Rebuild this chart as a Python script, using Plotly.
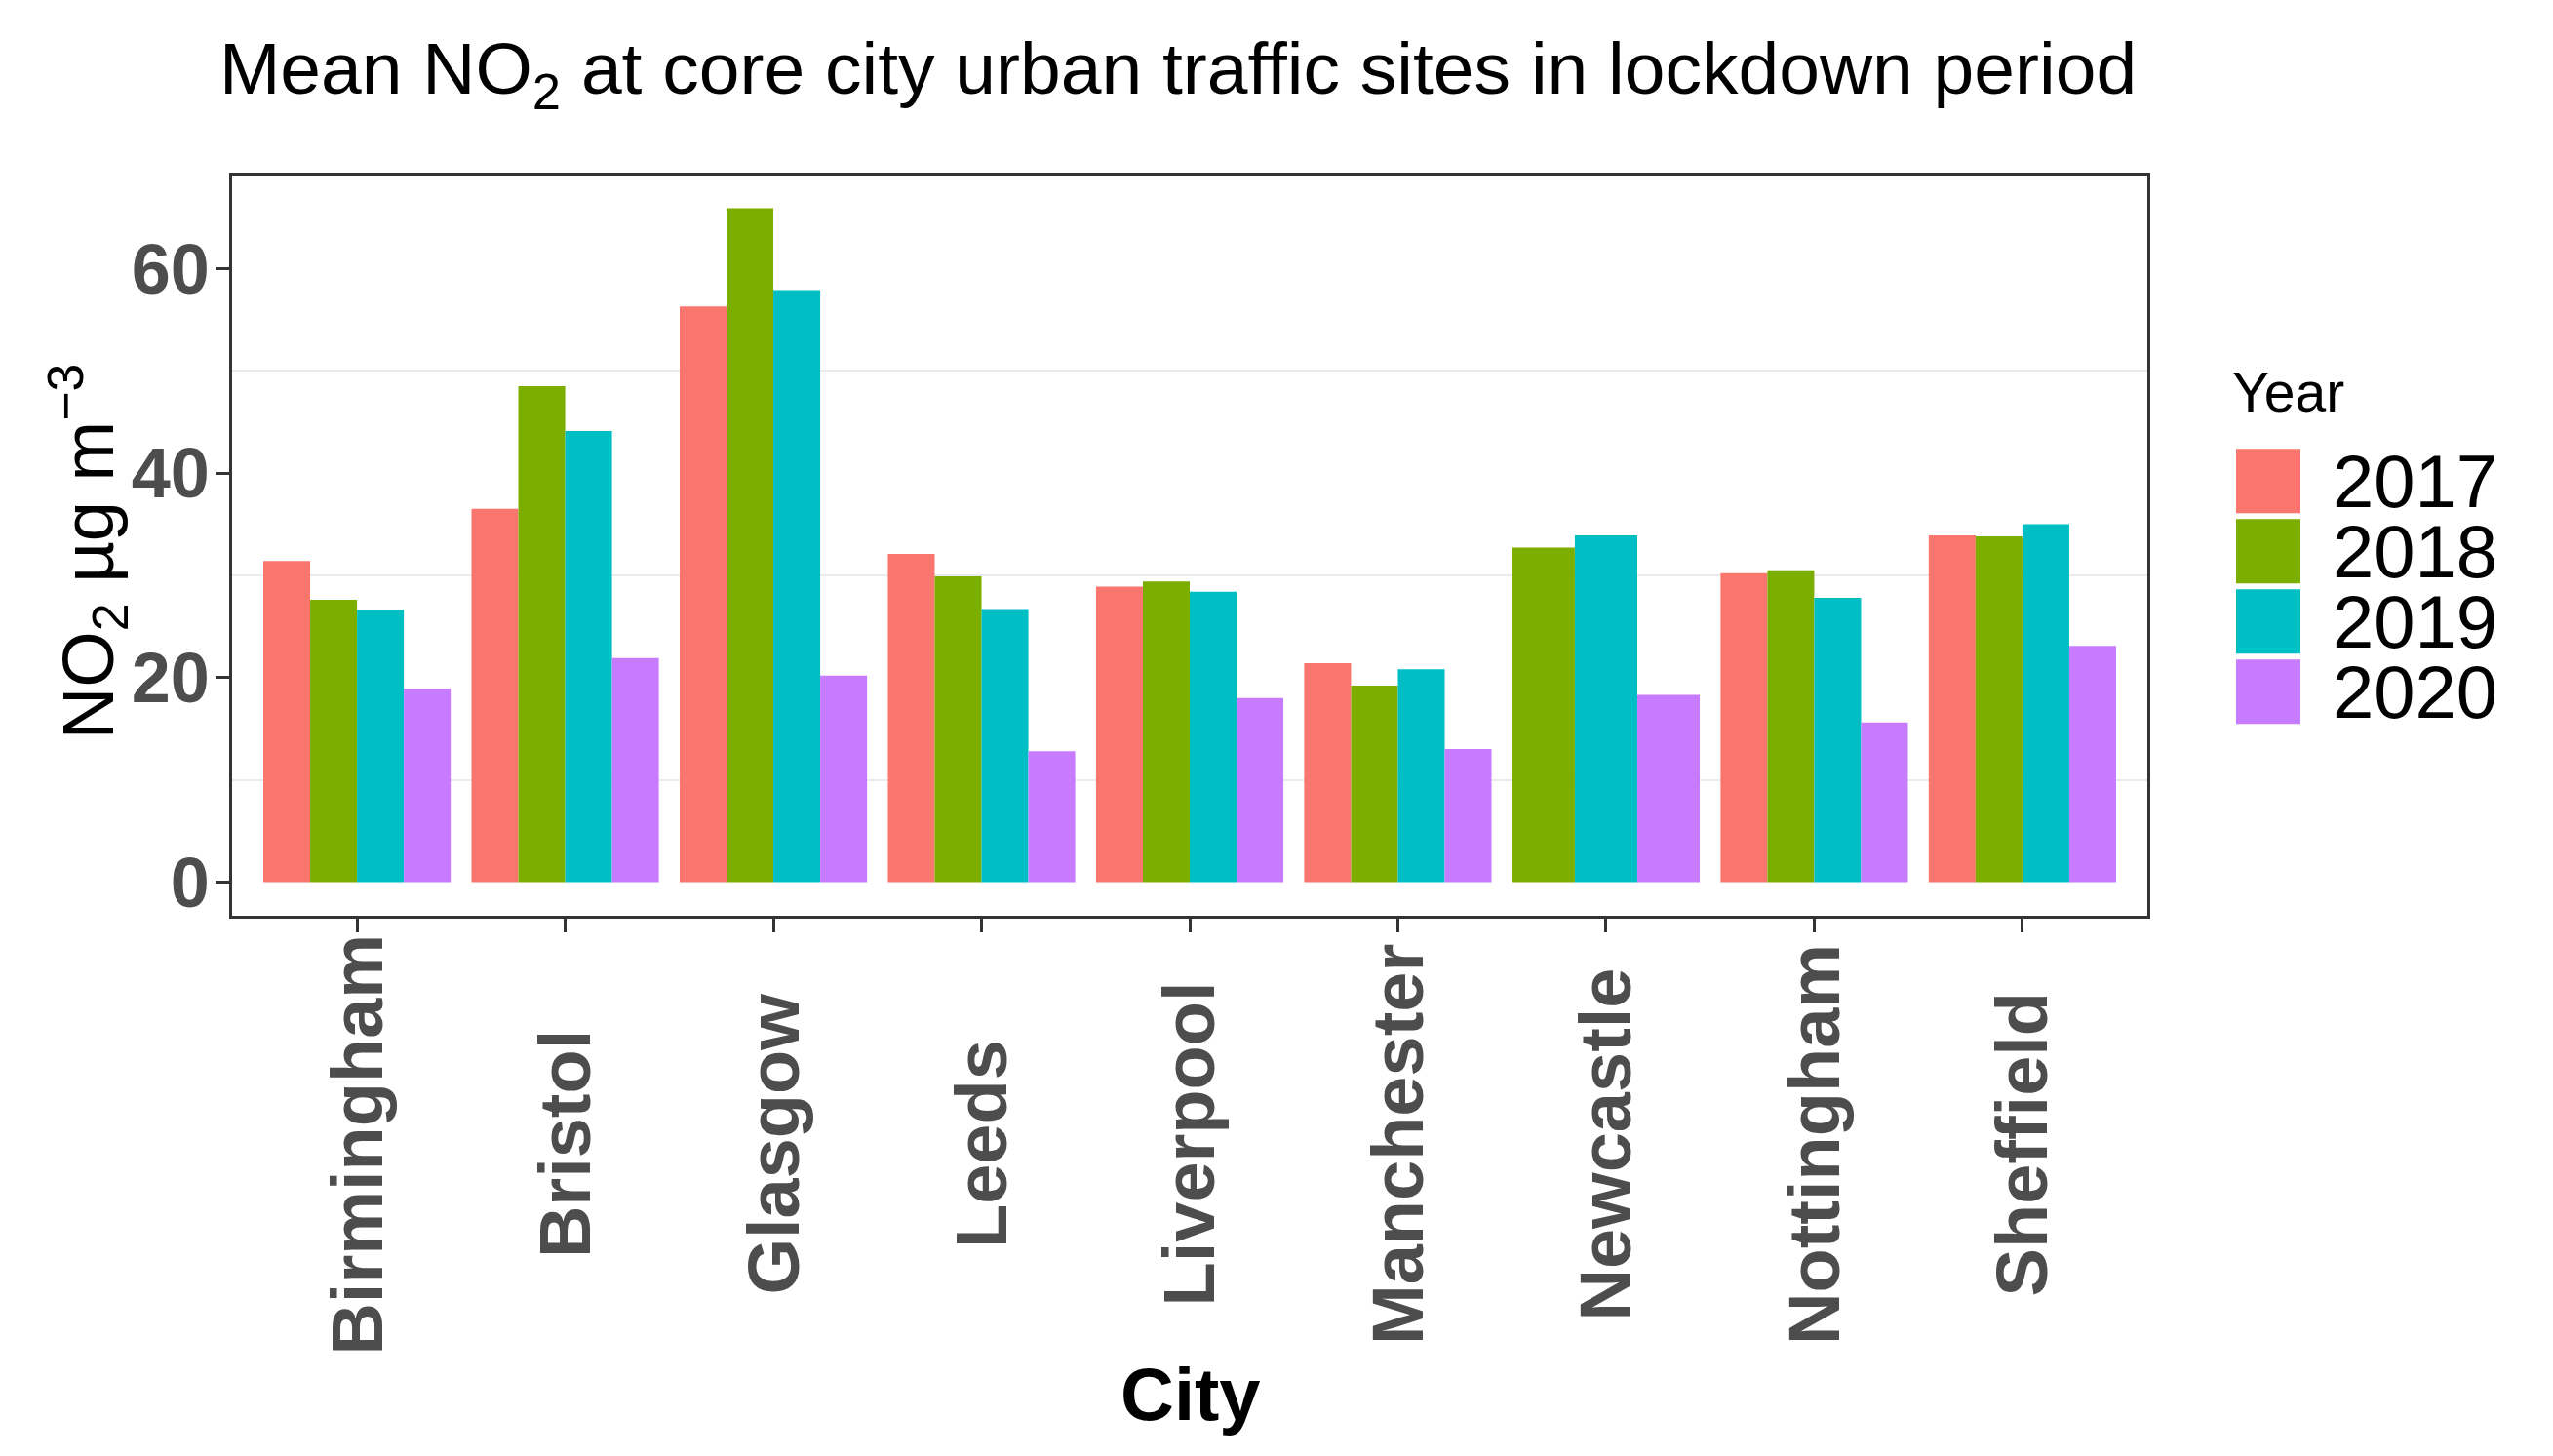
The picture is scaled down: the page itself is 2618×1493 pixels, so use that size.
import plotly.graph_objects as go

cities = ["Birmingham", "Bristol", "Glasgow", "Leeds", "Liverpool",
          "Manchester", "Newcastle", "Nottingham", "Sheffield"]
years = ["2017", "2018", "2019", "2020"]
no2_2017 = [31.4, 36.5, 56.3, 32.1, 28.9, 21.4, None, 30.2, 33.9]
no2_2018 = [27.6, 48.5, 65.9, 29.9, 29.4, 19.2, 32.7, 30.5, 33.8]
no2_2019 = [26.6, 44.1, 57.9, 26.7, 28.4, 20.8, 33.9, 27.8, 35.0]
no2_2020 = [18.9, 21.9, 20.2, 12.8, 18.0, 13.0, 18.3, 15.6, 23.1]
series = [no2_2017, no2_2018, no2_2019, no2_2020]
colors = ["#F8766D", "#7CAE00", "#00BFC4", "#C77CFF"]
y_ticks = [0, 20, 40, 60]

W, H = 2618, 1493
L, R, T, B = 238, 2202, 180, 938.6
FONT = "Liberation Sans, Arial, sans-serif"

# ggplot-like dodge: group width 0.9 split among present series per city
group_w = 0.9
widths = [[None] * len(cities) for _ in series]
offsets = [[None] * len(cities) for _ in series]
for ci in range(len(cities)):
    present = [si for si, s in enumerate(series) if s[ci] is not None]
    n = len(present)
    for k, si in enumerate(present):
        widths[si][ci] = group_w / n
        offsets[si][ci] = -group_w / 2 + k * group_w / n

fig = go.Figure()
for si, (yr, vals) in enumerate(zip(years, series)):
    fig.add_trace(go.Bar(
        x=cities, y=vals, name=yr,
        width=[w if w is not None else 0.001 for w in widths[si]],
        offset=[o if o is not None else 0 for o in offsets[si]],
        marker=dict(color=colors[si], line=dict(width=0)),
        showlegend=False,
    ))

def px2x(px):
    return (px - L) / (R - L)

def py2y(py):
    return (B - py) / (B - T)

shapes = []
annotations = []

# x tick labels: rotated, centred vertically (ggplot hjust = 0.5)
for c in cities:
    annotations.append(dict(text=c, xref="x", yref="paper",
                            x=c, y=py2y(1173), textangle=-90,
                            xanchor="center", yanchor="middle", showarrow=False,
                            font=dict(family=FONT, size=74, color="#4D4D4D",
                                      weight="bold")))
# x axis title
annotations.append(dict(text="City", xref="paper", yref="paper",
                        x=px2x(1221), y=py2y(1429),
                        xanchor="center", yanchor="middle", showarrow=False,
                        font=dict(family=FONT, size=76, color="black",
                                  weight="bold")))
# y axis title
annotations.append(dict(text="NO<sub>2</sub> µg m<sup>−3</sup>",
                        xref="paper", yref="paper",
                        x=px2x(90), y=py2y(566), textangle=-90,
                        xanchor="center", yanchor="middle", showarrow=False,
                        font=dict(family=FONT, size=74, color="black")))

# legend drawn manually (ggplot-style large keys)
box_x0, box_x1 = 2293, 2359
box_top = 460
box_h, pitch = 66, 72
for i, yr in enumerate(years):
    y0 = box_top + i * pitch
    shapes.append(dict(type="rect", xref="paper", yref="paper",
                       x0=px2x(box_x0), x1=px2x(box_x1),
                       y0=py2y(y0 + box_h), y1=py2y(y0),
                       fillcolor=colors[i], line=dict(width=0)))
    annotations.append(dict(text=yr, xref="paper", yref="paper",
                            x=px2x(2390), y=py2y(y0 + box_h / 2),
                            xanchor="left", yanchor="middle", showarrow=False,
                            font=dict(family=FONT, size=76, color="black")))
annotations.append(dict(text="Year", xref="paper", yref="paper",
                        x=px2x(2287), y=py2y(402),
                        xanchor="left", yanchor="middle", showarrow=False,
                        font=dict(family=FONT, size=57, color="black")))

fig.update_layout(
    width=W, height=H,
    margin=dict(l=L, r=W - R, t=T, b=H - B, autoexpand=False),
    paper_bgcolor="white", plot_bgcolor="white",
    barmode="overlay",
    title=dict(text="Mean NO<sub>2</sub> at core city urban traffic sites in lockdown period",
               x=1208 / W, xanchor="center", xref="container",
               y=1 - 70 / H, yref="container", yanchor="middle",
               font=dict(family=FONT, size=75, color="black")),
    font=dict(family=FONT),
    shapes=shapes,
    annotations=annotations,
)

fig.update_xaxes(
    type="category", range=[-0.6, len(cities) - 0.4],
    showgrid=False, zeroline=False,
    showline=True, mirror=True, linecolor="#333333", linewidth=2.5,
    ticks="outside", ticklen=14, tickwidth=2.5, tickcolor="#333333",
    showticklabels=False,
)
fig.update_yaxes(
    range=[-3.3, 69.1], tickvals=y_ticks,
    showgrid=False, zeroline=False,
    minor=dict(tick0=10, dtick=20, showgrid=True, gridcolor="#EBEBEB",
               gridwidth=1.5, ticks=""),
    showline=True, mirror=True, linecolor="#333333", linewidth=2.5,
    ticks="outside", ticklen=14, tickwidth=2.5, tickcolor="#333333",
    ticklabelstandoff=-8,
    tickfont=dict(family=FONT, size=72, color="#4D4D4D", weight="bold"),
)

fig.write_html("out.html", config={"displayModeBar": False},
               post_script="document.body.style.margin='0';")
